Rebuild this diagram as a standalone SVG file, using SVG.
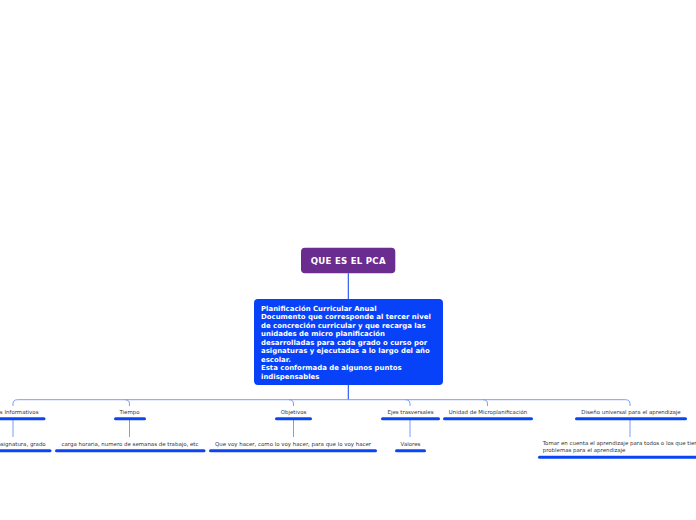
<svg xmlns="http://www.w3.org/2000/svg" width="696" height="520" viewBox="0 0 696 520">
<style>
.bg{fill:#ffffff}
.main{font-family:"DejaVu Sans",Verdana,sans-serif;font-weight:bold;fill:#ffffff}
.lbl{font-family:"DejaVu Sans",Verdana,sans-serif;font-size:5.45px;fill:#333333}
.ul{stroke:#0a45f5;stroke-width:3;stroke-linecap:round;fill:none}
.c1{stroke:#1f50f0;stroke-width:1.1;fill:none}
.c2{stroke:#7d9cf5;stroke-width:1;fill:none}
</style>
<rect class="bg" width="696" height="520"/>
<g id="connectors">
<path class="c1" d="M348.3,273.3 V299"/>
<path class="c1" d="M348.3,385 V399.7"/>
<path class="c2" d="M13,406 V404 Q13,399.7 17.5,399.7 H625.5 Q630,399.7 630,404 V406"/>
<path class="c2" d="M125,399.7 Q129.5,399.7 129.5,404 V406"/>
<path class="c2" d="M289,399.7 Q293.5,399.7 293.5,404 V406"/>
<path class="c2" d="M405.5,399.7 Q410,399.7 410,404 V406"/>
<path class="c2" d="M483,399.7 Q487.5,399.7 487.5,404 V406"/>
<path class="c2" d="M13,420 V437"/>
<path class="c2" d="M129.5,420 V437"/>
<path class="c2" d="M293.5,420 V437"/>
<path class="c2" d="M410,420 V437"/>
<path class="c2" d="M630,420 V437"/>
</g>
<g id="root">
<rect x="301" y="247.7" width="94.3" height="25.6" rx="4" fill="#6a2d8f"/>
<text class="main" x="348.3" y="264.2" font-size="8.6" letter-spacing="0.25" text-anchor="middle">QUE ES EL PCA</text>
</g>
<g id="pca">
<rect x="254" y="299" width="189" height="86" rx="4" fill="#0742f8"/>
<text class="main" font-size="6.95">
<tspan x="261" y="310.5">Planificación Curricular Anual</tspan>
<tspan x="261" y="319">Documento que corresponde al tercer nivel</tspan>
<tspan x="261" y="327.5">de concreción curricular y que recarga las</tspan>
<tspan x="261" y="336">unidades de micro planificación</tspan>
<tspan x="261" y="344.5">desarrolladas para cada grado o curso por</tspan>
<tspan x="261" y="353">asignaturas y ejecutadas a lo largo del año</tspan>
<tspan x="261" y="361.5">escolar.</tspan>
<tspan x="261" y="370">Esta conformada de algunos puntos</tspan>
<tspan x="261" y="378.5">indispensables</tspan>
</text>
</g>
<g id="datos">
<text class="lbl" x="38.5" y="413.6" text-anchor="end">Datos Informativos</text>
<path class="ul" d="M-18,418.7 H44"/>
</g>
<g id="datos-1">
<text class="lbl" x="45.7" y="445.6" text-anchor="end">asignatura, grado</text>
<path class="ul" d="M-24,450.7 H50"/>
</g>
<g id="tiempo">
<text class="lbl" x="129.5" y="413.6" text-anchor="middle">Tiempo</text>
<path class="ul" d="M115.5,418.7 H144.5"/>
</g>
<g id="tiempo-1">
<text class="lbl" x="130" y="445.6" text-anchor="middle">carga horaria, numero de semanas de trabajo, etc</text>
<path class="ul" d="M56.5,450.7 H204"/>
</g>
<g id="objetivos">
<text class="lbl" x="293.5" y="413.6" text-anchor="middle">Objetivos</text>
<path class="ul" d="M276.5,418.7 H310.5"/>
</g>
<g id="objetivos-1">
<text class="lbl" x="293" y="445.6" text-anchor="middle">Que voy hacer, como lo voy hacer, para que lo voy hacer</text>
<path class="ul" d="M210.5,450.7 H375.5"/>
</g>
<g id="ejes">
<text class="lbl" x="410.5" y="413.6" text-anchor="middle">Ejes trasversales</text>
<path class="ul" d="M382.5,418.7 H438.5"/>
</g>
<g id="ejes-1">
<text class="lbl" x="410.5" y="445.6" text-anchor="middle">Valores</text>
<path class="ul" d="M396.5,450.7 H424.5"/>
</g>
<g id="unidad">
<text class="lbl" x="488" y="413.6" text-anchor="middle">Unidad de Microplanificación</text>
<path class="ul" d="M444.5,418.7 H531.5"/>
</g>
<g id="diseno">
<text class="lbl" x="631" y="413.6" text-anchor="middle">Diseño universal para el aprendizaje</text>
<path class="ul" d="M576.5,418.7 H685.5"/>
</g>
<g id="diseno-1">
<text class="lbl">
<tspan x="542.7" y="445">Tomar en cuenta el aprendizaje para todos o los que tienen</tspan>
<tspan x="542.7" y="451.6">problemas para el aprendizaje</tspan>
</text>
<path class="ul" d="M539.5,457.3 H700"/>
</g>
</svg>
